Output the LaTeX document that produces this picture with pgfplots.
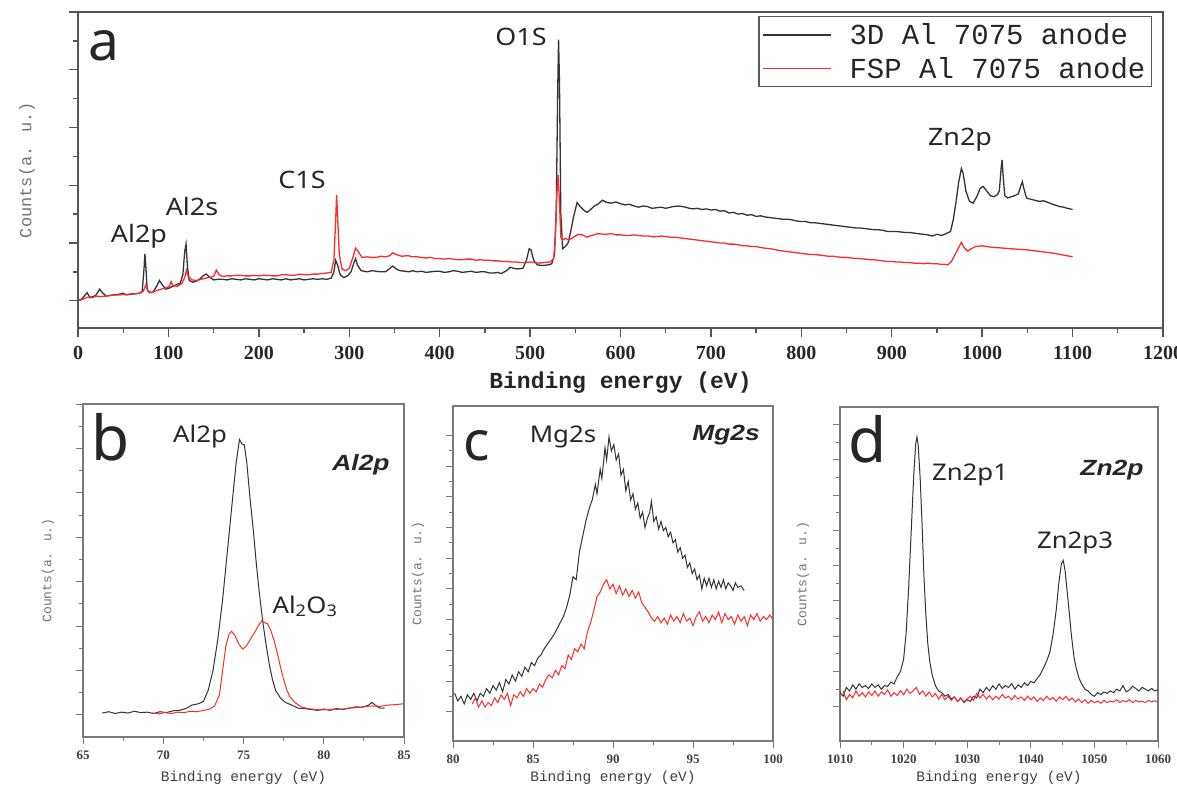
\documentclass[border=0pt]{standalone}
\usepackage{pgfplots}
\pgfplotsset{compat=1.18}
\usepackage{fontspec}
\setmainfont{Liberation Serif}
\newfontfamily\annot[FakeStretch=1.12]{Noto Sans}
\newfontfamily\letterfont{Noto Sans}
\newfontfamily\bifont[FakeStretch=1.2]{Liberation Sans}
\newfontfamily\monofont{Liberation Mono}
\definecolor{spblack}{HTML}{333333}
\definecolor{spred}{HTML}{FF2A2A}
\definecolor{frameA}{HTML}{555555}
\definecolor{frameB}{HTML}{7A7A7A}
\pgfplotsset{
  every axis/.append style={
    scale only axis, anchor=south west,
    /pgf/number format/assume math mode=true,
    /pgf/number format/1000 sep={},
    tick align=outside, xtick pos=bottom, ytick pos=left,
    yticklabels={},
  },
  panelA/.style={
    axis line style={draw=frameA, line width=1.6pt},
    every tick/.style={frameA, line width=1.4pt},
    major tick length=9pt, minor tick length=5pt,
    xticklabel style={font=\fontsize{20}{22}\selectfont\bfseries, text=black!85, yshift=-6pt},
  },
  panelB/.style={
    axis line style={draw=frameB, line width=1.1pt},
    every tick/.style={frameB, line width=1.0pt},
    major tick length=7pt, minor tick length=4pt,
    xticklabel style={font=\fontsize{13}{15}\selectfont\bfseries, text=black!75, yshift=-3pt},
    xlabel style={font=\monofont\fontsize{14.5}{16}\selectfont, text=black!75},
    ylabel style={font=\monofont\fontsize{13}{15}\selectfont, text=black!55},
  },
}
\begin{document}
\begin{tikzpicture}[x=1pt,y=1pt]
\useasboundingbox (0,0) rectangle (1177,-793);
% ---------------- panel a ----------------
\begin{axis}[panelA,
  at={(78pt,-328pt)}, width=1085pt, height=316pt,
  xmin=0, xmax=1200, ymin=-0.473, ymax=5.0,
  xtick={0,100,...,1200}, minor x tick num=1,
  ytick={0,1,2,3,4,5}, minor y tick num=1,
  xlabel={Binding energy (eV)},
  xlabel style={at={(axis description cs:0.5,-0.174)}, anchor=center, font=\monofont\bfseries\fontsize{23}{26}\selectfont, text=black!85},
  ylabel={Counts(a. u.)},
  ylabel style={at={(axis description cs:-0.047,0.5)}, anchor=center, font=\monofont\fontsize{17}{19}\selectfont, text=black!55},
  legend style={at={(0.9899,0.987)}, anchor=north east, font=\monofont\fontsize{29}{32}\selectfont, text=black!85,
    draw=black!65, line width=1.2pt, inner xsep=3pt, inner ysep=5pt, row sep=7pt, column sep=0pt,
    nodes={inner xsep=3pt, inner ysep=2pt}, cells={anchor=west}},
  legend image code/.code={\path[draw=none, fill=none] (0pt,-4pt) rectangle (84pt,4pt); \draw[#1] (0pt,0pt) -- (68pt,0pt);},
]
\addplot[spblack, line width=1.3pt] coordinates {
(0,0.00)(4,0.03)(8,0.10)(10,0.14)(13,0.06)(17,0.07)(20,0.10)(24,0.20)(27,0.14)(31,0.08)(35,0.09)(40,0.10)(45,0.11)(50,0.13)(53,0.10)(58,0.11)(63,0.12)(68,0.13)(71,0.16)(73,0.55)(74,0.81)(75,0.60)(76.5,0.20)(79,0.14)(83,0.15)(87,0.25)(90,0.35)(93,0.28)(97,0.20)(101,0.22)(105,0.25)(109,0.28)(113,0.30)(116,0.45)(118,0.85)(119.5,0.98)(121,0.60)(123,0.35)(127,0.32)(131,0.34)(135,0.38)(139,0.44)(142,0.46)(146,0.40)(150,0.36)(155,0.37)(160,0.37)(165,0.36)(170,0.38)(175,0.37)(180,0.36)(185,0.38)(190,0.37)(195,0.36)(200,0.38)(205,0.37)(210,0.36)(215,0.38)(220,0.37)(225,0.36)(230,0.38)(235,0.36)(240,0.37)(245,0.38)(250,0.36)(255,0.37)(260,0.38)(265,0.37)(270,0.38)(275,0.37)(280,0.39)(283,0.50)(285,0.70)(287,0.62)(290,0.45)(294,0.40)(298,0.43)(302,0.50)(305,0.65)(307,0.73)(309,0.62)(313,0.52)(320,0.50)(325,0.52)(330,0.51)(335,0.50)(340,0.50)(345,0.56)(348,0.60)(352,0.55)(356,0.52)(362,0.51)(366,0.50)(370,0.52)(375,0.50)(380,0.51)(385,0.49)(390,0.50)(395,0.51)(400,0.51)(405,0.49)(410,0.50)(415,0.52)(420,0.51)(425,0.49)(430,0.50)(435,0.51)(440,0.49)(445,0.50)(450,0.50)(455,0.48)(460,0.48)(464,0.49)(468,0.47)(474,0.52)(478,0.58)(482,0.56)(486,0.55)(492,0.56)(496,0.70)(499,0.90)(501,0.88)(504,0.70)(508,0.62)(514,0.61)(520,0.62)(524,0.64)(527,0.80)(529,1.60)(530.5,3.60)(531.5,4.52)(532.5,3.80)(534,1.50)(536,0.90)(539,0.94)(542,1.00)(545,1.20)(548,1.45)(552,1.70)(556,1.62)(560,1.56)(563,1.53)(567,1.58)(571,1.64)(575,1.67)(580,1.74)(585,1.70)(590,1.69)(595,1.71)(600,1.68)(605,1.66)(610,1.67)(615,1.64)(620,1.62)(625,1.64)(630,1.63)(635,1.60)(640,1.61)(645,1.62)(650,1.60)(658,1.63)(665,1.64)(672,1.62)(676,1.60)(680,1.59)(685,1.60)(690,1.58)(695,1.59)(700,1.57)(705,1.58)(710,1.55)(715,1.56)(720,1.52)(725,1.53)(730,1.50)(735,1.51)(740,1.48)(745,1.49)(750,1.46)(755,1.47)(760,1.45)(765,1.44)(770,1.43)(775,1.42)(780,1.41)(785,1.41)(790,1.40)(795,1.38)(800,1.37)(805,1.37)(810,1.35)(815,1.35)(820,1.34)(825,1.33)(830,1.32)(835,1.31)(840,1.30)(845,1.29)(850,1.28)(855,1.27)(860,1.26)(865,1.26)(870,1.25)(875,1.24)(880,1.23)(885,1.23)(890,1.22)(895,1.20)(900,1.20)(905,1.20)(910,1.19)(915,1.18)(920,1.18)(925,1.17)(930,1.16)(935,1.15)(940,1.14)(945,1.12)(950,1.15)(955,1.13)(960,1.16)(965,1.20)(968,1.40)(971,1.70)(974,2.05)(977,2.29)(979,2.20)(982,1.90)(986,1.72)(990,1.69)(994,1.80)(998,1.95)(1001,1.98)(1005,1.90)(1009,1.82)(1013,1.80)(1017,1.84)(1019,1.90)(1021,2.30)(1022,2.44)(1023,2.20)(1025,1.82)(1028,1.78)(1032,1.80)(1036,1.82)(1040,1.85)(1043,2.00)(1044.5,2.06)(1046,1.95)(1049,1.78)(1053,1.76)(1058,1.74)(1063,1.72)(1068,1.73)(1073,1.70)(1078,1.67)(1082,1.65)(1086,1.63)(1090,1.62)(1094,1.60)(1100,1.58)
};
\addlegendentry{3D Al 7075 anode}
\addplot[spred, line width=1.3pt] coordinates {
(0,0.00)(5,0.02)(10,0.06)(15,0.05)(20,0.08)(25,0.07)(30,0.08)(35,0.09)(40,0.10)(45,0.10)(50,0.11)(55,0.11)(60,0.12)(65,0.12)(68,0.13)(72,0.16)(75,0.27)(77,0.17)(81,0.14)(86,0.17)(92,0.20)(97,0.22)(101,0.25)(103,0.33)(105,0.26)(110,0.25)(115,0.30)(118,0.40)(120,0.53)(122,0.42)(126,0.36)(132,0.35)(138,0.38)(144,0.40)(150,0.42)(153,0.53)(156,0.45)(160,0.42)(165,0.43)(170,0.43)(175,0.44)(180,0.44)(185,0.43)(190,0.43)(195,0.44)(200,0.43)(205,0.44)(210,0.44)(215,0.43)(220,0.43)(225,0.45)(230,0.45)(235,0.44)(240,0.44)(245,0.46)(250,0.45)(255,0.45)(260,0.46)(265,0.46)(270,0.47)(275,0.48)(280,0.49)(283,0.70)(285,1.40)(286,1.83)(287,1.50)(289,0.80)(292,0.55)(296,0.52)(300,0.56)(304,0.75)(307,0.91)(310,0.85)(314,0.75)(320,0.76)(325,0.75)(330,0.75)(335,0.77)(340,0.76)(345,0.78)(348,0.83)(352,0.80)(358,0.77)(365,0.78)(370,0.76)(375,0.76)(380,0.75)(385,0.74)(390,0.75)(395,0.73)(400,0.73)(405,0.72)(410,0.73)(415,0.72)(420,0.71)(425,0.71)(430,0.72)(435,0.72)(440,0.70)(445,0.71)(450,0.70)(455,0.70)(460,0.69)(465,0.69)(470,0.68)(475,0.68)(480,0.67)(485,0.67)(490,0.66)(495,0.66)(500,0.67)(505,0.66)(510,0.65)(515,0.66)(522,0.67)(526,0.72)(528,1.10)(529.5,1.80)(531,2.18)(532.5,1.70)(534,1.10)(536,1.05)(539,1.08)(543,1.05)(548,1.10)(553,1.15)(558,1.14)(563,1.10)(568,1.13)(575,1.16)(583,1.15)(590,1.16)(595,1.14)(600,1.14)(605,1.13)(610,1.13)(615,1.14)(620,1.13)(625,1.12)(630,1.12)(635,1.11)(640,1.11)(645,1.12)(650,1.11)(655,1.10)(660,1.10)(665,1.09)(670,1.08)(675,1.07)(680,1.06)(685,1.05)(690,1.04)(695,1.03)(700,1.02)(705,1.01)(710,1.00)(715,1.00)(720,0.98)(725,0.98)(730,0.97)(735,0.95)(740,0.95)(745,0.94)(750,0.94)(755,0.92)(760,0.91)(765,0.90)(770,0.89)(775,0.87)(780,0.86)(785,0.85)(790,0.84)(795,0.83)(800,0.82)(805,0.81)(810,0.80)(815,0.80)(820,0.79)(825,0.78)(830,0.77)(835,0.77)(840,0.76)(845,0.75)(850,0.75)(855,0.74)(860,0.73)(865,0.73)(870,0.72)(875,0.71)(880,0.71)(885,0.70)(890,0.69)(895,0.68)(900,0.68)(905,0.67)(910,0.67)(915,0.66)(920,0.66)(925,0.65)(930,0.65)(935,0.64)(940,0.65)(945,0.64)(950,0.64)(955,0.63)(958,0.63)(962,0.62)(966,0.68)(970,0.80)(974,0.92)(977,1.01)(980,0.92)(984,0.86)(988,0.90)(993,0.94)(1000,0.95)(1008,0.93)(1016,0.92)(1024,0.91)(1032,0.90)(1040,0.89)(1050,0.88)(1060,0.86)(1070,0.84)(1080,0.82)(1090,0.79)(1100,0.76)
};
\addlegendentry{FSP Al 7075 anode}
\end{axis}
% ---------------- panel b ----------------
\begin{axis}[panelB,
  at={(83pt,-737pt)}, width=321pt, height=333pt,
  xmin=65, xmax=85, ymin=-0.5, ymax=7,
  xtick={65,70,...,85}, minor x tick num=1,
  ytick={0,1,...,7}, minor y tick num=1,
  xlabel={Binding energy (eV)},
  xlabel style={at={(axis description cs:0.5,-0.123)}, anchor=center},
  ylabel={Counts(a. u.)},
  ylabel style={at={(axis description cs:-0.109,0.5)}, anchor=center},
]
\addplot[spblack, line width=1.0pt] coordinates {
(66.2,0.04)(66.6,0.07)(67.0,0.03)(67.4,0.06)(67.8,0.04)(68.2,0.08)(68.6,0.05)(69.0,0.06)(69.4,0.03)(69.8,0.07)(70.2,0.05)(70.6,0.09)(71.0,0.10)(71.4,0.14)(71.8,0.22)(72.2,0.25)(72.5,0.30)(72.8,0.55)(73.1,1.00)(73.4,1.70)(73.7,2.60)(74.0,3.70)(74.3,4.80)(74.55,5.70)(74.75,6.20)(74.9,6.10)(75.05,6.08)(75.2,5.70)(75.4,4.90)(75.6,4.20)(75.8,3.40)(76.0,2.70)(76.2,2.10)(76.4,1.60)(76.6,1.15)(76.8,0.80)(77.0,0.55)(77.3,0.38)(77.6,0.28)(78.0,0.22)(78.4,0.15)(78.8,0.14)(79.2,0.12)(79.6,0.10)(80.0,0.13)(80.4,0.10)(80.8,0.14)(81.2,0.12)(81.6,0.15)(82.0,0.18)(82.4,0.17)(82.8,0.22)(83.0,0.28)(83.2,0.22)(83.5,0.15)(83.8,0.15)
};
\addplot[spred, line width=1.0pt] coordinates {
(69.3,0.04)(69.7,0.02)(70.1,0.05)(70.5,0.03)(70.9,0.06)(71.3,0.05)(71.7,0.08)(72.1,0.07)(72.5,0.10)(72.9,0.13)(73.2,0.20)(73.5,0.45)(73.7,1.00)(73.9,1.55)(74.1,1.82)(74.25,1.88)(74.45,1.80)(74.7,1.60)(74.95,1.48)(75.2,1.56)(75.45,1.72)(75.7,1.86)(75.95,2.02)(76.15,2.12)(76.3,2.08)(76.5,2.05)(76.7,1.90)(76.9,1.68)(77.1,1.40)(77.3,1.08)(77.5,0.80)(77.7,0.56)(77.9,0.40)(78.2,0.28)(78.6,0.18)(79.0,0.14)(79.5,0.12)(80.0,0.11)(80.5,0.13)(81.0,0.12)(81.5,0.15)(82.0,0.16)(82.5,0.18)(83.0,0.20)(83.5,0.19)(84.0,0.22)(84.5,0.23)(85.0,0.25)
};
\end{axis}
% ---------------- panel c ----------------
\begin{axis}[panelB,
  at={(453pt,-741pt)}, width=320pt, height=335pt,
  xmin=80, xmax=100, ymin=-0.955, ymax=9.96,
  xtick={80,85,...,100}, minor x tick num=1,
  ytick={0,1,...,9}, minor y tick num=1,
  xlabel={Binding energy (eV)},
  xlabel style={at={(axis description cs:0.5,-0.110)}, anchor=center},
  ylabel={Counts(a. u.)},
  ylabel style={at={(axis description cs:-0.109,0.5)}, anchor=center},
]
\addplot[spblack, line width=1.0pt] coordinates {
(80.1,0.6)(80.3,0.35)(80.5,0.5)(80.7,0.25)(80.9,0.55)(81.1,0.4)(81.3,0.6)(81.5,0.35)(81.7,0.6)(81.9,0.5)(82.1,0.75)(82.3,0.6)(82.5,0.85)(82.7,0.7)(82.9,0.95)(83.1,0.65)(83.3,1.05)(83.5,0.9)(83.7,1.2)(83.9,1.0)(84.1,1.3)(84.3,1.15)(84.5,1.45)(84.7,1.3)(84.9,1.6)(85.1,1.5)(85.3,1.75)(85.5,1.85)(85.7,2.05)(85.9,2.2)(86.1,2.35)(86.3,2.5)(86.5,2.7)(86.7,2.9)(86.9,3.1)(87.1,3.4)(87.3,3.8)(87.5,4.4)(87.7,4.3)(87.9,5.2)(88.1,5.7)(88.3,6.2)(88.5,6.6)(88.7,6.9)(88.9,7.4)(89.0,7.1)(89.2,7.9)(89.3,7.6)(89.5,8.6)(89.6,8.2)(89.75,8.95)(89.9,8.5)(90.05,8.7)(90.2,8.2)(90.35,8.4)(90.5,7.7)(90.65,7.9)(90.8,7.2)(90.95,7.5)(91.1,6.9)(91.25,7.1)(91.4,6.6)(91.55,6.8)(91.7,6.3)(91.85,6.5)(92.0,6.0)(92.15,6.3)(92.3,6.5)(92.4,6.85)(92.55,6.2)(92.7,6.35)(92.85,5.95)(93.0,6.2)(93.15,5.9)(93.3,6.0)(93.45,5.7)(93.6,5.85)(93.75,5.5)(93.9,5.6)(94.05,5.2)(94.2,5.35)(94.35,5.0)(94.5,5.1)(94.65,4.7)(94.8,4.85)(94.95,4.5)(95.1,4.65)(95.25,4.3)(95.4,4.45)(95.55,4.0)(95.7,4.35)(95.85,4.1)(96.0,4.35)(96.15,4.05)(96.3,4.3)(96.45,4.0)(96.6,4.25)(96.75,4.05)(96.9,4.3)(97.05,4.0)(97.2,4.2)(97.35,4.1)(97.5,3.95)(97.65,4.2)(97.8,4.05)(98.0,4.1)(98.2,3.95)
};
\addplot[spred, line width=1.0pt] coordinates {
(81.2,0.25)(81.4,0.45)(81.6,0.15)(81.8,0.35)(82.0,0.15)(82.2,0.3)(82.4,0.2)(82.6,0.45)(82.8,0.3)(83.0,0.55)(83.2,0.4)(83.4,0.6)(83.6,0.2)(83.8,0.55)(84.0,0.45)(84.2,0.65)(84.4,0.5)(84.6,0.75)(84.8,0.6)(85.0,0.75)(85.2,0.65)(85.4,0.9)(85.6,0.8)(85.8,1.05)(86.0,1.2)(86.2,1.1)(86.4,1.35)(86.6,1.2)(86.8,1.5)(87.0,1.4)(87.2,1.85)(87.4,1.7)(87.6,2.05)(87.8,1.95)(88.0,2.2)(88.2,2.05)(88.4,2.6)(88.6,2.9)(88.8,3.3)(89.0,3.75)(89.2,3.9)(89.4,4.15)(89.6,4.3)(89.8,4.0)(90.0,4.15)(90.2,3.85)(90.4,4.1)(90.6,3.8)(90.8,4.0)(91.0,3.75)(91.2,3.95)(91.4,3.7)(91.6,3.9)(91.8,3.55)(92.0,3.4)(92.2,3.25)(92.4,3.05)(92.6,2.95)(92.8,3.1)(93.0,2.9)(93.2,3.05)(93.4,2.85)(93.6,3.15)(93.8,2.95)(94.0,3.1)(94.2,2.9)(94.4,3.2)(94.6,2.95)(94.8,3.05)(95.0,2.8)(95.2,3.1)(95.4,3.25)(95.6,2.95)(95.8,3.1)(96.0,2.9)(96.2,3.15)(96.4,3.0)(96.6,3.25)(96.8,2.9)(97.0,3.2)(97.2,3.0)(97.4,3.1)(97.6,2.85)(97.8,3.15)(98.0,2.95)(98.2,3.1)(98.4,2.8)(98.6,3.15)(98.8,3.0)(99.0,3.2)(99.2,2.95)(99.4,3.1)(99.6,3.0)(99.8,3.15)(100.0,3.0)
};
\end{axis}
% ---------------- panel d ----------------
\begin{axis}[panelB,
  at={(840pt,-741pt)}, width=318pt, height=334pt,
  xmin=1010, xmax=1060, ymin=-0.97, ymax=8.5,
  xtick={1010,1020,...,1060}, minor x tick num=1,
  ytick={0,1,...,8}, minor y tick num=1,
  xlabel={Binding energy (eV)},
  xlabel style={at={(axis description cs:0.5,-0.111)}, anchor=center},
  ylabel={Counts(a. u.)},
  ylabel style={at={(axis description cs:-0.116,0.5)}, anchor=center},
]
\addplot[spblack, line width=1.0pt] coordinates {
(1010.0,0.40)(1010.5,0.30)(1011,0.55)(1011.5,0.45)(1012,0.62)(1012.5,0.50)(1013,0.65)(1013.5,0.55)(1014,0.60)(1014.5,0.52)(1015,0.65)(1015.5,0.55)(1016,0.62)(1016.5,0.50)(1017,0.60)(1017.5,0.58)(1018,0.70)(1018.5,0.65)(1019,0.85)(1019.5,1.00)(1020,1.35)(1020.4,2.10)(1020.8,3.40)(1021.2,5.00)(1021.6,6.60)(1021.9,7.45)(1022.1,7.65)(1022.3,7.40)(1022.6,6.50)(1022.9,5.20)(1023.2,3.70)(1023.5,2.60)(1023.8,1.80)(1024.1,1.30)(1024.5,0.90)(1025,0.60)(1025.5,0.45)(1026,0.40)(1026.5,0.30)(1027,0.35)(1027.5,0.22)(1028,0.28)(1028.5,0.15)(1029,0.25)(1029.5,0.12)(1030,0.20)(1030.5,0.15)(1031,0.30)(1031.5,0.25)(1032,0.50)(1032.5,0.40)(1033,0.55)(1033.5,0.45)(1034,0.60)(1034.5,0.50)(1035,0.65)(1035.5,0.52)(1036,0.60)(1036.5,0.55)(1037,0.66)(1037.5,0.50)(1038,0.62)(1038.5,0.55)(1039,0.68)(1039.5,0.60)(1040,0.72)(1040.5,0.68)(1041,0.80)(1041.5,0.92)(1042,1.10)(1042.5,1.30)(1043,1.55)(1043.5,2.05)(1044,2.75)(1044.4,3.50)(1044.8,4.05)(1045.1,4.15)(1045.4,3.85)(1045.7,3.30)(1046,2.75)(1046.4,2.00)(1046.8,1.40)(1047.2,1.05)(1047.6,0.80)(1048,0.65)(1048.5,0.50)(1049,0.45)(1049.5,0.35)(1050,0.30)(1050.5,0.40)(1051,0.35)(1051.5,0.42)(1052,0.38)(1052.5,0.45)(1053,0.40)(1053.5,0.50)(1054,0.45)(1054.5,0.60)(1055,0.42)(1055.5,0.48)(1056,0.58)(1056.5,0.52)(1057,0.45)(1057.5,0.55)(1058,0.50)(1058.5,0.45)(1059,0.52)(1059.5,0.45)(1060,0.48)
};
\addplot[spred, line width=1.0pt] coordinates {
(1010.5,0.45)(1011,0.20)(1011.5,0.35)(1012,0.25)(1012.5,0.45)(1013,0.30)(1013.5,0.40)(1014,0.28)(1014.5,0.42)(1015,0.32)(1015.5,0.45)(1016,0.30)(1016.5,0.42)(1017,0.35)(1017.5,0.48)(1018,0.30)(1018.5,0.40)(1019,0.32)(1019.5,0.46)(1020,0.34)(1020.5,0.50)(1021,0.38)(1021.5,0.45)(1022,0.55)(1022.5,0.35)(1023,0.45)(1023.5,0.30)(1024,0.42)(1024.5,0.28)(1025,0.38)(1025.5,0.22)(1026,0.35)(1026.5,0.20)(1027,0.30)(1027.5,0.18)(1028,0.28)(1028.5,0.15)(1029,0.25)(1029.5,0.14)(1030,0.22)(1030.5,0.30)(1031,0.18)(1031.5,0.38)(1032,0.25)(1032.5,0.35)(1033,0.22)(1033.5,0.32)(1034,0.20)(1034.5,0.30)(1035,0.22)(1035.5,0.35)(1036,0.25)(1036.5,0.30)(1037,0.20)(1037.5,0.32)(1038,0.22)(1038.5,0.28)(1039,0.18)(1039.5,0.30)(1040,0.20)(1040.5,0.28)(1041,0.15)(1041.5,0.25)(1042,0.18)(1042.5,0.30)(1043,0.20)(1043.5,0.26)(1044,0.16)(1044.5,0.28)(1045,0.20)(1045.5,0.30)(1046,0.18)(1046.5,0.25)(1047,0.14)(1047.5,0.22)(1048,0.12)(1048.5,0.20)(1049,0.10)(1049.5,0.18)(1050,0.12)(1050.5,0.16)(1051,0.10)(1051.5,0.18)(1052,0.12)(1052.5,0.16)(1053,0.14)(1053.5,0.20)(1054,0.12)(1054.5,0.18)(1055,0.14)(1055.5,0.20)(1056,0.12)(1056.5,0.18)(1057,0.14)(1057.5,0.16)(1058,0.12)(1058.5,0.18)(1059,0.14)(1059.5,0.17)(1060,0.13)
};
\end{axis}
% ---------------- annotations ----------------
\begin{scope}[every node/.style={anchor=base, inner sep=0pt, text=black!85}]
\node[font=\letterfont\fontsize{55}{60}\selectfont] at (104,-60) {a};
\node[font=\annot\fontsize{24}{28}\selectfont] at (521,-45) {O1S};
\node[font=\annot\fontsize{24}{28}\selectfont] at (302,-188) {C1S};
\node[font=\annot\fontsize{24}{28}\selectfont] at (192,-215) {Al2s};
\node[font=\annot\fontsize{24}{28}\selectfont] at (139,-242) {Al2p};
\node[font=\annot\fontsize{24}{28}\selectfont] at (960,-145) {Zn2p};
\node[font=\letterfont\fontsize{62}{66}\selectfont] at (111,-460) {b};
\node[font=\annot\fontsize{23}{27}\selectfont] at (200,-442) {Al2p};
\node[font=\bifont\bfseries\itshape\fontsize{22}{26}\selectfont] at (361,-470) {Al2p};
\node[font=\annot\fontsize{23}{27}\selectfont] at (305,-613) {Al\textsubscript{2}O\textsubscript{3}};
\node[font=\letterfont\fontsize{55}{60}\selectfont] at (477,-460) {c};
\node[font=\annot\fontsize{23}{27}\selectfont] at (563,-442) {Mg2s};
\node[font=\bifont\bfseries\itshape\fontsize{22}{26}\selectfont] at (726,-440) {Mg2s};
\node[font=\letterfont\fontsize{62}{66}\selectfont] at (868,-462) {d};
\node[font=\annot\fontsize{23}{27}\selectfont] at (970,-480) {Zn2p1};
\node[font=\annot\fontsize{23}{27}\selectfont] at (1075,-548) {Zn2p3};
\node[font=\bifont\bfseries\itshape\fontsize{22}{26}\selectfont] at (1112,-475) {Zn2p};
\end{scope}
\end{tikzpicture}
\end{document}
